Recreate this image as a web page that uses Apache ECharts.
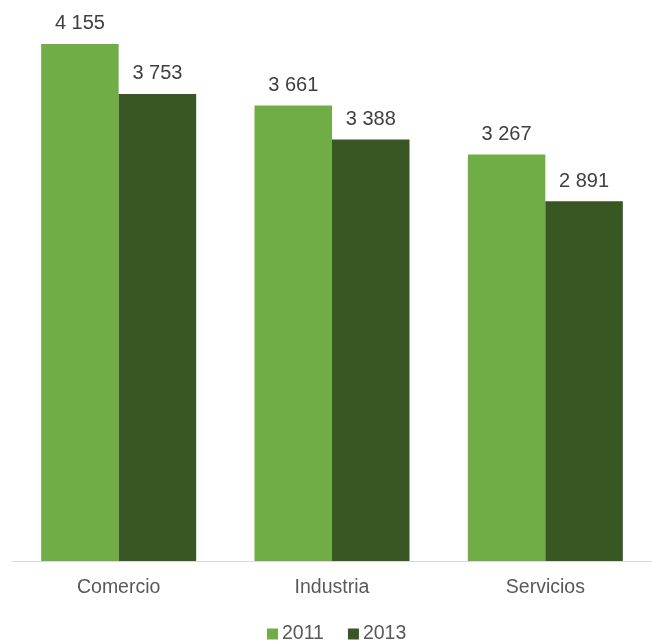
<!DOCTYPE html>
<html>
<head>
<meta charset="utf-8">
<script src="https://cdn.jsdelivr.net/npm/echarts@6/dist/echarts.min.js"></script>
<style>
  html, body { margin: 0; padding: 0; background: #fff; }
  #chart { width: 652px; height: 642px; }
</style>
</head>
<body>
<div id="chart"></div>
<script>
// Categories and values per year
const categories = ['Comercio', 'Industria', 'Servicios'];
const years = ['2011', '2013'];
const values2011 = [4155, 3661, 3267];
const values2013 = [3753, 3388, 2891];

const colors = ['#70AD47', '#385723'];
const FONT = 'Liberation Sans, Arial, sans-serif';

// thousands separated by a space, e.g. 4 155
function fmt(v) {
  return String(v).replace(/\B(?=(\d{3})+(?!\d))/g, ' ');
}

const labelStyle = {
  show: true,
  position: 'top',
  distance: 10,
  color: '#404040',
  fontFamily: FONT,
  fontSize: 20,
  formatter: p => fmt(p.value)
};

const chart = echarts.init(document.getElementById('chart'), null, { renderer: 'canvas' });
chart.setOption({
  animation: false,
  textStyle: { fontFamily: FONT },
  grid: { left: 12, top: 1, width: 644, height: 560, containLabel: false },
  legend: {
    bottom: -7,
    left: 262,
    icon: 'rect',
    itemWidth: 11,
    itemHeight: 11,
    itemGap: 24,
    textStyle: { color: '#595959', fontSize: 19.5, fontFamily: FONT, padding: [0, 0, 0, -1] },
    data: years
  },
  xAxis: {
    type: 'category',
    data: categories,
    axisLine: { lineStyle: { color: '#D9D9D9', width: 1 } },
    axisTick: { show: false },
    axisLabel: { color: '#595959', fontSize: 19.5, fontFamily: FONT, margin: 17 }
  },
  yAxis: {
    type: 'value',
    min: 0,
    max: 4500,
    show: false,
    splitLine: { show: false }
  },
  series: [
    {
      name: years[0], type: 'bar', data: values2011,
      barWidth: 77.5, barGap: '0%',
      itemStyle: { color: colors[0] },
      label: labelStyle
    },
    {
      name: years[1], type: 'bar', data: values2013,
      barWidth: 77.5, barGap: '0%',
      itemStyle: { color: colors[1] },
      label: labelStyle
    }
  ]
});
</script>
</body>
</html>
